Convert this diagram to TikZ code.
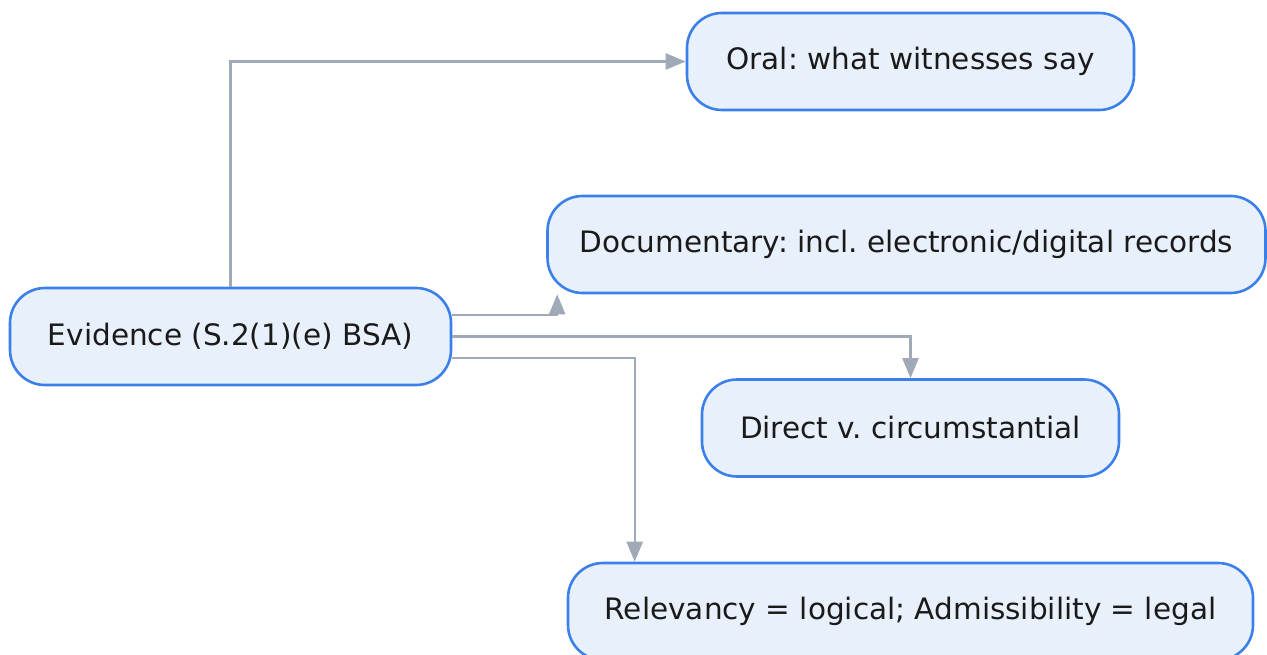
\documentclass[tikz,border=0pt]{standalone}
\usepackage{fontspec}
\setmainfont{DejaVu Sans}
\usetikzlibrary{arrows.meta,calc}
\definecolor{boxline}{HTML}{3B7FEA}
\definecolor{boxfill}{HTML}{E8F0FC}
\definecolor{edgecol}{HTML}{A0A9B8}
\definecolor{txt}{HTML}{1A1A1A}
\frenchspacing
\begin{document}
\begin{tikzpicture}[x=1pt,y=-1pt,
  box/.style={draw=boxline,fill=boxfill,line width=2.6pt,rounded corners=35pt,
    minimum height=97pt,inner sep=0pt,text=txt,
    font=\fontsize{29.5}{34}\selectfont},
  conn/.style={draw=edgecol,line width=2.4pt,-{Triangle[length=20pt,width=16pt]}}]
\useasboundingbox (0,0) rectangle (1267,655);
\node[box,minimum width=441pt] (ev) at (230.5,336.5) {Evidence (S.2(1)(e) BSA)};
\node[box,minimum width=447pt] (oral) at (910.5,61.5) {Oral: what witnesses say};
\node[box,minimum width=718pt] (doc) at (906.5,244.5) {Documentary: incl. electronic/digital records};
\node[box,minimum width=417pt] (dir) at (910.5,428) {Direct v. circumstantial};
\node[box,minimum width=685pt] (rel) at (910.5,611.5) {Relevancy = logical; Admissibility = legal};
\coordinate (dtip) at ([xshift=11pt]doc.south west);
\coordinate (rtip) at ([xshift=68pt]rel.north west);
\draw[conn] (ev.north) |- (oral.west);
\draw[conn] ([yshift=21.5pt]ev.east) -| (dtip);
\draw[conn] (ev.east) -| (dir.north);
\draw[conn] ([yshift=-21.5pt]ev.east) -| (rtip);
\end{tikzpicture}
\end{document}
